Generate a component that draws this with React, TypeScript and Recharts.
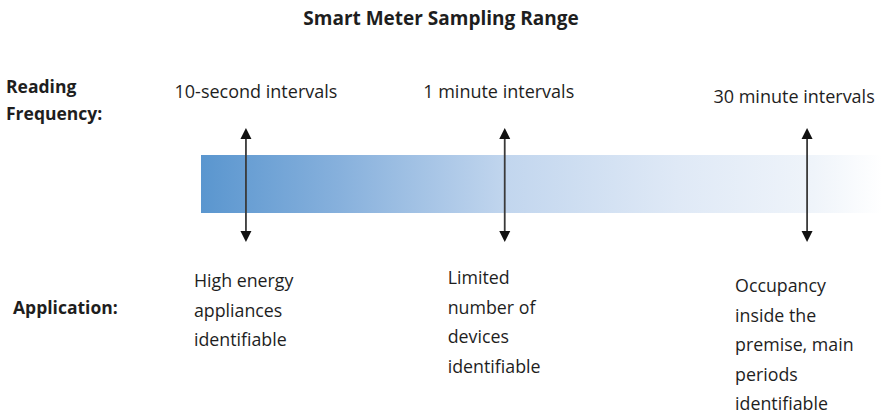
import {
  ComposedChart,
  XAxis,
  YAxis,
  Scatter,
  ReferenceArea,
  ReferenceLine,
} from "recharts";

// sampling stops along the range (0 = finest, 100 = coarsest)
const stops = [6.6, 44.6, 89.0];
const frequencies = ["10-second intervals", "1 minute intervals", "30 minute intervals"];
const applications = [
  ["High energy", "appliances", "identifiable"],
  ["Limited", "number of", "devices", "identifiable"],
  ["Occupancy", "inside the", "premise, main", "periods", "identifiable"],
];
const rowTicks = [100, 308];
const rowLabels = [["Reading", "Frequency:"], ["Application:"]];

// layout (px offsets / baselines)
const W = 882;
const H = 419;
const AXIS_W = 201;
const BAR_TOP = 155;
const BAR_BOTTOM = 213;
const ARROW_TOP = 128;
const ARROW_BOTTOM = 242;
const freqDx = [10, -6, -13];
const freqY = [98, 98, 103];
const appDx = [-52, -57, -72];
const appY = [287, 284, 292];
const LINE_H = 29.5;

const FONT = "'Open Sans', 'Noto Sans', sans-serif";
const INK = "#1e1e1e";

if (typeof document !== "undefined") document.body.style.margin = "0";

const freqData = stops.map((x, i) => ({ x, y: freqY[i], label: frequencies[i], dx: freqDx[i] }));
const appData = stops.map((x, i) => ({ x, y: appY[i], lines: applications[i], dx: appDx[i] }));

function FreqLabel(props: any) {
  const { cx, cy, payload } = props;
  return (
    <text x={cx + payload.dx} y={cy} textAnchor="middle" fontFamily={FONT} fontSize={18} fill={INK}>
      {payload.label}
    </text>
  );
}

function AppLabel(props: any) {
  const { cx, cy, payload } = props;
  return (
    <text x={cx + payload.dx} y={cy} fontFamily={FONT} fontSize={17.8} fill={INK}>
      {payload.lines.map((l: string, i: number) => (
        <tspan key={i} x={cx + payload.dx} y={cy + i * LINE_H}>
          {l}
        </tspan>
      ))}
    </text>
  );
}

function RowTick(props: any) {
  const { y, payload } = props;
  const idx = rowTicks.indexOf(payload.value);
  const lines = rowLabels[idx] || [];
  const start = y - ((lines.length - 1) * 27) / 2 + 6;
  const x = idx === 0 ? 6 : 13;
  return (
    <text x={x} y={start} fontFamily={FONT} fontWeight={700} fontSize={17.5} fill={INK}>
      {lines.map((l, i) => (
        <tspan key={i} x={x} y={start + i * 27}>
          {l}
        </tspan>
      ))}
    </text>
  );
}

function Arrow(props: any) {
  const { x1, y1, y2 } = props;
  const top = Math.min(y1, y2);
  const bot = Math.max(y1, y2);
  const hh = 11;
  const hw = 5.5;
  return (
    <g>
      <line x1={x1} y1={top + hh - 1} x2={x1} y2={bot - hh + 1} stroke="#3a3a3a" strokeWidth={1.8} />
      <polygon points={`${x1},${top} ${x1 - hw},${top + hh} ${x1 + hw},${top + hh}`} fill="#111" />
      <polygon points={`${x1},${bot} ${x1 - hw},${bot - hh} ${x1 + hw},${bot - hh}`} fill="#111" />
    </g>
  );
}

export default function App() {
  return (
    <div style={{ width: W, height: H, background: "#fff" }}>
      <ComposedChart width={W} height={H} margin={{ top: 0, right: 0, bottom: 0, left: 0 }}>
        <defs>
          <linearGradient id="rangeFade" x1="0" y1="0" x2="1" y2="0">
            <stop offset="0" stopColor="#5a96cf" />
            <stop offset="0.2" stopColor="#86b0dc" />
            <stop offset="0.45" stopColor="#c2d6ee" />
            <stop offset="0.7" stopColor="#dfe9f6" />
            <stop offset="0.9" stopColor="#eff4fa" />
            <stop offset="1" stopColor="#ffffff" />
          </linearGradient>
        </defs>
        <XAxis type="number" dataKey="x" domain={[0, 100]} hide />
        <YAxis
          type="number"
          dataKey="y"
          domain={[0, H]}
          reversed
          width={AXIS_W}
          ticks={rowTicks}
          interval={0}
          axisLine={false}
          tickLine={false}
          tick={<RowTick />}
        />
        <ReferenceArea
          x1={0}
          x2={100}
          y1={BAR_TOP}
          y2={BAR_BOTTOM}
          fill="url(#rangeFade)"
          fillOpacity={1}
          stroke="none"
          ifOverflow="visible"
        />
        {stops.map((s) => (
          <ReferenceLine
            key={s}
            segment={[
              { x: s, y: ARROW_TOP },
              { x: s, y: ARROW_BOTTOM },
            ]}
            ifOverflow="visible"
            shape={<Arrow />}
          />
        ))}
        <Scatter data={freqData} dataKey="y" shape={<FreqLabel />} isAnimationActive={false} />
        <Scatter data={appData} dataKey="y" shape={<AppLabel />} isAnimationActive={false} />
        <text x={441} y={25} textAnchor="middle" fontFamily={FONT} fontWeight={700} fontSize={19} fill={INK}>
          Smart Meter Sampling Range
        </text>
      </ComposedChart>
    </div>
  );
}
